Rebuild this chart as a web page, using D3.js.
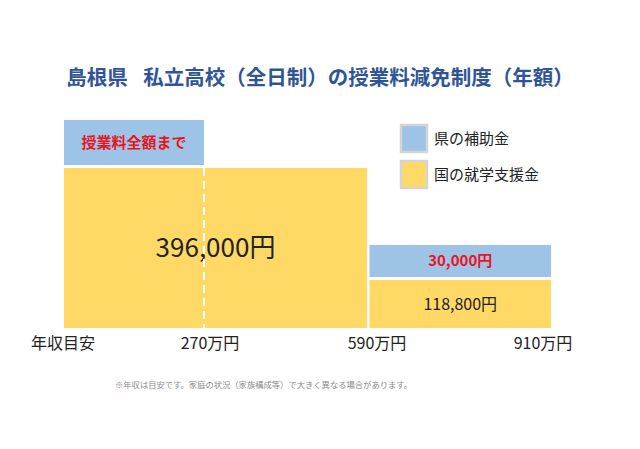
<!DOCTYPE html>
<html>
<head>
<meta charset="utf-8">
<script src="https://cdn.jsdelivr.net/npm/d3@7"></script>
<style>
  body { margin: 0; background: #fff; }
  svg { display: block; }
</style>
</head>
<body>
<div id="chart"></div>
<script>
// data (万円 / 円)
var bandStart = [0, 590];
var bandEnd = [590, 910];
var nationalAid = [396000, 118800];
var nationalLabels = ['396,000円', '118,800円'];
var prefStart = [0, 590];
var prefEnd = [270, 910];
var prefLabels = ['授業料全額まで', '30,000円'];
var dividers = [270];
var tickValues = [270, 590, 910];
var tickLabels = ['270万円', '590万円', '910万円'];
var legendLabels = ['県の補助金', '国の就学支援金'];

var attrs = {
  svgWidth: 640,
  svgHeight: 449,
  font: '"Noto Sans CJK JP", "Noto Sans", sans-serif',
  blue: '#9DC3E6',
  yellow: '#FFD966',
  red: '#E8141E',
  titleColor: '#2F5597',
  textColor: '#222'
};

var config = {
  baseline: 328,
  topNational: 168,
  gap: 3,
  prefHeights: [45, 32],
  blockGap: 2.5,
  tickOffsets: [6, 10, -8]
};

// piecewise scale, the chart's income axis is not evenly spaced
var x = d3.scaleLinear()
  .domain([0, 270, 590, 910])
  .range([64, 204, 367, 551]);

var y = d3.scaleLinear()
  .domain([0, d3.max(nationalAid)])
  .range([config.baseline, config.topNational]);

var svg = d3.select('#chart')
  .append('svg')
  .attr('width', attrs.svgWidth)
  .attr('height', attrs.svgHeight)
  .attr('font-family', attrs.font);

svg.append('text')
  .attr('x', 320)
  .attr('y', 78)
  .attr('dy', '0.35em')
  .attr('text-anchor', 'middle')
  .attr('font-size', 20.5)
  .attr('font-weight', 'bold')
  .attr('fill', attrs.titleColor)
  .text('島根県\u2002\u2005私立高校（全日制）の授業料減免制度（年額）');

var chart = svg.append('g');

var bands = bandStart.map(function (s, i) {
  return {
    x0: x(s) + (i > 0 ? config.blockGap : 0),
    x1: x(bandEnd[i]),
    v: nationalAid[i],
    label: nationalLabels[i],
    px0: x(prefStart[i]) + (i > 0 ? config.blockGap : 0),
    px1: x(prefEnd[i]),
    pLabel: prefLabels[i],
    pH: config.prefHeights[i]
  };
});

// national support (yellow)
chart.selectAll('.national')
  .data(bands)
  .enter()
  .append('rect')
  .attr('class', 'national')
  .attr('x', d => d.x0)
  .attr('width', d => d.x1 - d.x0)
  .attr('y', d => y(d.v))
  .attr('height', d => y(0) - y(d.v))
  .attr('fill', attrs.yellow);

chart.selectAll('.national-label')
  .data(bands)
  .enter()
  .append('text')
  .attr('class', 'national-label')
  .attr('x', d => (d.x0 + d.x1) / 2)
  .attr('y', d => (y(d.v) + y(0)) / 2)
  .attr('dy', '0.35em')
  .attr('text-anchor', 'middle')
  .attr('font-size', (d, i) => i === 0 ? 26 : 16)
  .attr('fill', attrs.textColor)
  .text(d => d.label);

// prefecture subsidy (blue), stacked on top
chart.selectAll('.pref')
  .data(bands)
  .enter()
  .append('rect')
  .attr('class', 'pref')
  .attr('x', d => d.px0)
  .attr('width', d => d.px1 - d.px0)
  .attr('y', d => y(d.v) - config.gap - d.pH)
  .attr('height', d => d.pH)
  .attr('fill', attrs.blue);

chart.selectAll('.pref-label')
  .data(bands)
  .enter()
  .append('text')
  .attr('class', 'pref-label')
  .attr('x', d => (d.px0 + d.px1) / 2)
  .attr('y', d => y(d.v) - config.gap - d.pH / 2)
  .attr('dy', '0.35em')
  .attr('text-anchor', 'middle')
  .attr('font-size', 15)
  .attr('font-weight', 'bold')
  .attr('fill', attrs.red)
  .text(d => d.pLabel);

// dashed divider
chart.selectAll('.divider')
  .data(dividers)
  .enter()
  .append('line')
  .attr('x1', d => x(d))
  .attr('x2', d => x(d))
  .attr('y1', y(nationalAid[0]))
  .attr('y2', y(0))
  .attr('stroke', '#fff')
  .attr('stroke-width', 2)
  .attr('stroke-dasharray', '8,5');

// axis labels
svg.append('text')
  .attr('x', 63)
  .attr('y', 343)
  .attr('dy', '0.35em')
  .attr('text-anchor', 'middle')
  .attr('font-size', 16)
  .attr('fill', attrs.textColor)
  .text('年収目安');

svg.selectAll('.tick-label')
  .data(tickValues)
  .enter()
  .append('text')
  .attr('class', 'tick-label')
  .attr('x', (d, i) => x(d) + config.tickOffsets[i])
  .attr('y', 343)
  .attr('dy', '0.35em')
  .attr('text-anchor', 'middle')
  .attr('font-size', 16)
  .attr('fill', attrs.textColor)
  .text((d, i) => tickLabels[i]);

// legend
var legend = svg.selectAll('.legend')
  .data(legendLabels)
  .enter()
  .append('g')
  .attr('class', 'legend')
  .attr('transform', (d, i) => 'translate(401,' + (125 + i * 36) + ')');

legend.append('rect')
  .attr('width', 26)
  .attr('height', 27)
  .attr('fill', (d, i) => i === 0 ? attrs.blue : attrs.yellow)
  .attr('stroke', '#d4d4d4')
  .attr('stroke-width', 2.5);

legend.append('text')
  .attr('x', 33)
  .attr('y', 14)
  .attr('dy', '0.35em')
  .attr('font-size', 15)
  .attr('fill', attrs.textColor)
  .text(d => d);

svg.append('text')
  .attr('x', 115)
  .attr('y', 385)
  .attr('dy', '0.35em')
  .attr('font-size', 8.3)
  .attr('fill', '#8a8a8a')
  .text('※年収は目安です。家庭の状況（家族構成等）で大きく異なる場合があります。');
</script>
</body>
</html>
